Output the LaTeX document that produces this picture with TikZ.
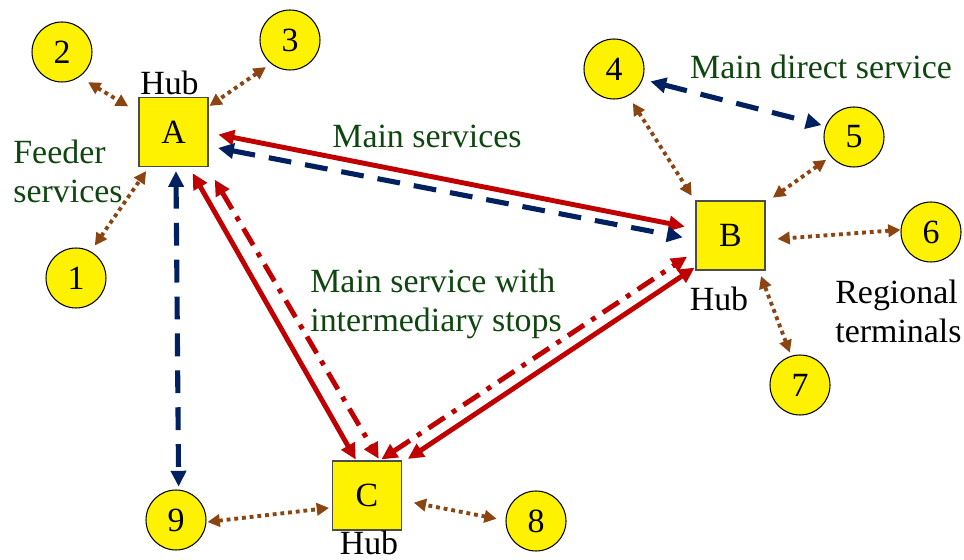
\documentclass[tikz,border=0pt]{standalone}
\usepackage{fontspec}
\setmainfont{Liberation Serif}
\newfontfamily\hubfont{Liberation Serif}
\usetikzlibrary{arrows.meta}
\definecolor{mainred}{RGB}{192,0,0}
\definecolor{linkblue}{RGB}{0,32,96}
\definecolor{feedbrown}{RGB}{139,69,19}
\definecolor{notegreen}{RGB}{15,70,15}
\tikzset{%
  every node/.style={font=\hubfont\fontsize{19.3}{22.7}\selectfont},
  hub/.style={draw=black!70, fill=yellow, minimum size=1.38cm, inner sep=0pt, line width=0.6pt},
  stop/.style={circle, draw=black, fill=yellow, minimum size=1.2cm, inner sep=0pt, line width=0.6pt},
  note/.style={text=notegreen, align=left, inner sep=0pt},
  tag/.style={align=left, inner sep=0pt},
  main/.style={draw=mainred, line width=2.8pt,
               {Triangle[length=9pt,width=8.5pt]}-{Triangle[length=9pt,width=8.5pt]}},
  direct/.style={draw=linkblue, line width=2.9pt, dash pattern=on 13pt off 8pt,
               {Triangle[length=9pt,width=8.5pt]}-{Triangle[length=9pt,width=8.5pt]}},
  viastops/.style={main, dash pattern=on 11pt off 5pt on 2.8pt off 5pt},
  feeder/.style={draw=feedbrown, line width=2.2pt, dash pattern=on 2.2pt off 2.2pt,
               {Triangle[length=7pt,width=7pt]}-{Triangle[length=7pt,width=7pt]}},
}

\begin{document}
\begin{tikzpicture}[x=0.02cm, y=-0.02cm]
    \useasboundingbox (0,0) rectangle (964,560);

    % hubs
    \node[hub] (A) at (173.5,132) {A};
    \node[hub] (B) at (730.5,235.5) {B};
    \node[hub] (C) at (367,495.5) {C};

    % regional terminals
    \node[stop] (s1) at (76,278) {1};
    \node[stop] (s2) at (62,52) {2};
    \node[stop] (s3) at (290,40) {3};
    \node[stop] (s4) at (614,69) {4};
    \node[stop] (s5) at (854,137) {5};
    \node[stop] (s6) at (931,232) {6};
    \node[stop] (s7) at (800,385) {7};
    \node[stop] (s8) at (536,521) {8};
    \node[stop] (s9) at (176,520) {9};

    % texts (base = last line)
    \node[tag, anchor=base] (hubA) at (169.5,95) {Hub};
    \node[tag, anchor=base] (hubB) at (719,311) {Hub};
    \node[tag, anchor=base] (hubC) at (369,555) {Hub};
    \node[note, anchor=base west] (feedtxt) at (13,203) {Feeder\\services};
    \node[note, anchor=base] (maintxt) at (427,148) {Main services};
    \node[note, anchor=base] (directtxt) at (821,79) {Main direct service};
    \node[note, anchor=base west] (stopstxt) at (310,332) {Main service with\\intermediary stops};
    \node[tag, anchor=base west] (regtxt) at (835,343) {Regional\\terminals};

    % main services between hubs
    \draw[main, shorten <=5.7pt, shorten >=6.2pt] (A.-1) -- (B.169);
    \draw[direct, shorten <=5.5pt, shorten >=7.4pt] (A.-22) -- (B.187);
    \draw[main, shorten <=4pt, shorten >=0.6pt] (A.-66) -- (C.107);
    \draw[viastops, shorten <=8.3pt, shorten >=1.1pt] (A.-46) -- (C.70);
    \draw[main, shorten <=4pt, shorten >=0.6pt] (C.43) -- (B.222);
    \draw[viastops, shorten <=1.1pt, shorten >=5.7pt] (C.70) -- (B.204);

    % direct services
    \draw[direct, shorten <=2.3pt, shorten >=1.7pt] (A.-86) -- (s9.85);
    \draw[direct, shorten <=4.5pt, shorten >=2.3pt] (s4.-20) -- (s5.159);

    % feeder services
    \draw[feeder, shorten <=5.7pt, shorten >=6.8pt] (s2.-55) -- (A.151);
    \draw[feeder, shorten <=3.4pt, shorten >=0.6pt] (s3.231) -- (A.36);
    \draw[feeder, shorten <=4pt, shorten >=2.8pt] (s1.61) -- (A.235);
    \draw[feeder, shorten <=4.8pt, shorten >=4pt] (s4.-62) -- (B.136);
    \draw[feeder, shorten <=3.1pt, shorten >=5.1pt] (s5.220) -- (B.43);
    \draw[feeder, shorten >=6.8pt] (s6.176) -- (B.-7);
    \draw[feeder, shorten <=2pt, shorten >=3.4pt] (s7.107) -- (B.-51);
    \draw[feeder, shorten <=0.6pt, shorten >=1.7pt] (s9.-4) -- (C.199);
    \draw[feeder, shorten <=5.1pt, shorten >=6.8pt] (s8.179) -- (C.-8);
\end{tikzpicture}
\end{document}
